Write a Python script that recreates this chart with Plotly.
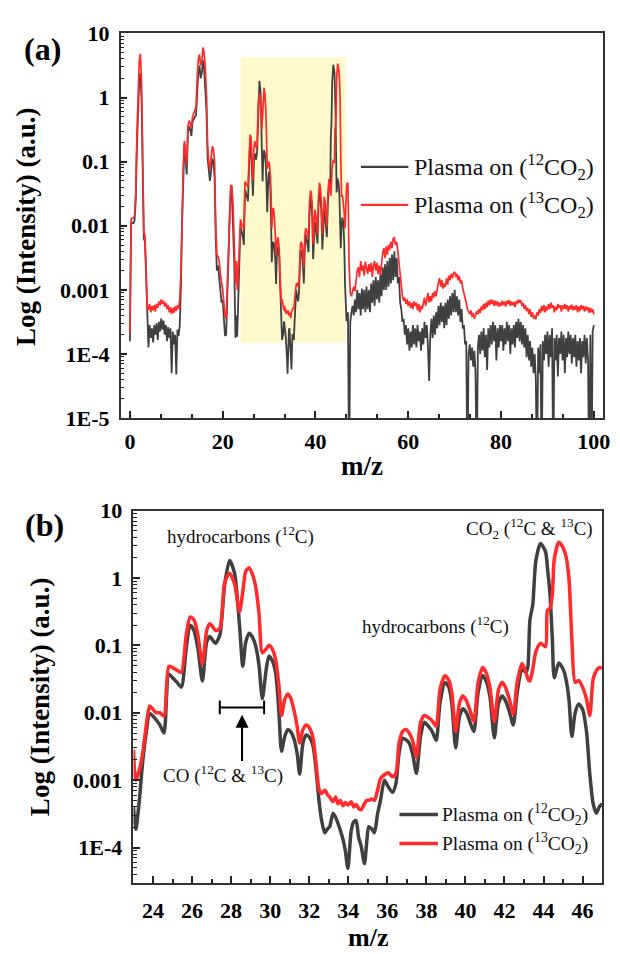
import numpy as np
import plotly.graph_objects as go

W, H = 620, 954
BLACK = "#404040"
RED = "#FF2A2A"
FONT = "Liberation Serif"

# ---------------- panel (b): m/z 23-47 (log10 intensity) ----------------
mz_b = [23.00, 23.12, 23.30, 23.46, 23.65, 23.83, 24.00, 24.15, 24.35, 24.56,
        24.81, 25.00, 25.23, 25.45, 25.70, 25.90, 26.10, 26.30, 26.53, 26.75,
        26.91, 27.05, 27.20, 27.42, 27.67, 27.92, 28.17, 28.43, 28.60, 28.75,
        28.93, 29.10, 29.27, 29.43, 29.60, 29.80, 29.94, 30.10, 30.28, 30.45,
        30.58, 30.75, 30.90, 31.05, 31.21, 31.38, 31.51, 31.68, 31.85, 32.00,
        32.20, 32.35, 32.50, 32.63, 32.80, 32.95, 33.05, 33.22, 33.35, 33.47,
        33.60, 33.73, 33.85, 33.98, 34.15, 34.28, 34.40, 34.53, 34.66, 34.83,
        34.95, 35.05, 35.20, 35.34, 35.50, 35.65, 35.85, 36.05, 36.27, 36.44,
        36.60, 36.78, 36.95, 37.12, 37.30, 37.49, 37.70, 37.90, 38.10, 38.30,
        38.50, 38.70, 38.95, 39.15, 39.30, 39.50, 39.70, 39.87, 40.05, 40.25,
        40.43, 40.65, 40.88, 41.05, 41.25, 41.48, 41.70, 41.89, 42.05, 42.25,
        42.45, 42.65, 42.90, 43.10, 43.20, 43.30, 43.45, 43.60, 43.84, 44.10,
        44.20, 44.33, 44.45, 44.55, 44.78, 45.00, 45.15, 45.30, 45.45, 45.62,
        45.80, 46.00, 46.20, 46.37, 46.54, 46.70, 46.85, 47.00]
log_12_b = [-3.40, -3.73, -3.30, -2.76, -2.30, -2.01, -2.05, -2.10, -2.18, -2.30,
            -1.43, -1.48, -1.55, -1.62, -1.05, -0.70, -0.78, -1.05, -1.53, -0.95,
            -0.87, -0.92, -0.97, -0.85, -0.10, 0.26, 0.08, -0.70, -1.31, -0.95,
            -0.82, -0.88, -1.02, -1.30, -1.79, -1.35, -1.16, -1.22, -1.41, -2.00,
            -2.57, -2.35, -2.25, -2.28, -2.38, -2.60, -2.91, -2.45, -2.33, -2.36,
            -2.50, -2.85, -3.30, -3.59, -3.78, -3.72, -3.69, -3.49, -3.55, -3.64,
            -3.75, -3.88, -4.05, -4.31, -3.75, -3.62, -3.60, -3.85, -3.98, -4.24,
            -3.90, -3.69, -3.72, -3.78, -3.50, -3.30, -3.00, -3.10, -3.18, -3.05,
            -2.60, -2.38, -2.40, -2.45, -2.62, -2.90, -2.35, -2.14, -2.20, -2.28,
            -2.41, -1.85, -1.55, -1.62, -1.85, -2.52, -2.05, -1.94, -2.00, -2.15,
            -2.28, -1.70, -1.45, -1.52, -1.75, -2.37, -1.85, -1.75, -1.82, -1.98,
            -2.18, -1.70, -1.36, -1.40, -1.31, -0.63, -0.39, 0.24, 0.51, 0.39,
            0.15, -0.24, -0.90, -1.48, -1.26, -1.35, -1.50, -1.80, -2.35, -2.00,
            -1.87, -1.95, -2.28, -2.91, -3.35, -3.49, -3.40, -3.35]
log_13_b = [-2.55, -3.00, -2.85, -2.62, -2.20, -1.90, -1.95, -2.00, -2.00, -2.05,
            -1.31, -1.33, -1.37, -1.40, -0.85, -0.58, -0.62, -0.85, -1.28, -0.78,
            -0.68, -0.72, -0.78, -0.75, -0.07, 0.07, -0.08, -0.50, -0.20, 0.10,
            0.15, 0.05, -0.15, -0.53, -1.11, -1.05, -1.00, -1.05, -1.21, -1.60,
            -2.04, -1.80, -1.72, -1.78, -1.95, -2.20, -2.45, -2.25, -2.18, -2.22,
            -2.38, -2.75, -3.13, -3.20, -3.15, -3.22, -3.25, -3.32, -3.25, -3.35,
            -3.30, -3.38, -3.33, -3.37, -3.32, -3.40, -3.36, -3.42, -3.44, -3.35,
            -3.30, -3.30, -3.28, -3.30, -3.15, -2.98, -2.92, -2.89, -2.95, -2.90,
            -2.45, -2.28, -2.25, -2.30, -2.42, -2.66, -2.15, -2.04, -2.07, -2.12,
            -2.20, -1.65, -1.45, -1.52, -1.70, -2.28, -1.85, -1.75, -1.82, -1.98,
            -2.13, -1.55, -1.33, -1.40, -1.62, -2.13, -1.65, -1.55, -1.62, -1.80,
            -2.02, -1.55, -1.27, -1.40, -1.50, -1.53, -1.35, -1.10, -0.97, -1.02,
            -0.48, -0.45, -0.25, 0.28, 0.53, 0.45, 0.32, 0.00, -0.90, -1.55,
            -1.52, -1.62, -1.80, -2.04, -1.50, -1.38, -1.33, -1.34]

# ---------------- panel (a): m/z 0-22.75 and 47.25-100 (step 0.25) ----------------
mz_a_lo = np.arange(0, 23, 0.25)
log_12_a_lo = [-3.80, -1.97, -1.95, -1.96,  -1.92, -1.62, -0.80, -0.10,
               0.25, 0.38, 0.00, -1.10,     -2.20, -2.25, -2.90, -3.60,
               -3.90, -3.55, -3.75, -3.60,  -3.82, -3.55, -3.70, -3.52,
               -3.78, -3.50, -3.65, -3.45,  -3.62, -3.48, -3.70, -3.55,
               -3.80, -3.58, -3.75, -3.60,  -4.30, -3.65, -3.85, -3.70,
               -4.32, -3.62, -3.72, -3.55,  -2.95, -1.95, -1.10, -0.72,
               -0.95, -1.20, -0.55, -0.45,  -0.50, -0.60, -0.38, -0.32,
               -0.30, -0.28, 0.10, 0.40,    0.50, 0.30, 0.38, 0.58,
               0.45, 0.20, -0.20, -0.95,    -1.20, -1.30, -1.15, -0.95,
               -1.00, -1.25, -2.20, -2.70,  -2.62, -2.85, -2.95, -3.20,
               -3.15, -3.45, -3.72, -3.70,  -3.20, -2.50, -1.85, -1.42,
               -1.55, -1.95, -2.60, -3.75]
log_13_a_lo = [-3.68, -1.90, -1.88, -1.88,  -1.85, -1.50, -0.60, 0.10,
               0.55, 0.68, 0.30, -0.90,     -2.10, -2.15, -2.60, -3.30,
               -3.30, -3.22, -3.35, -3.25,  -3.32, -3.24, -3.34, -3.22,
               -3.28, -3.18, -3.24, -3.15,  -3.22, -3.17, -3.26, -3.20,
               -3.30, -3.24, -3.35, -3.27,  -3.38, -3.28, -3.36, -3.26,
               -3.33, -3.24, -3.30, -3.15,  -2.70, -1.80, -1.05, -0.68,
               -0.85, -1.05, -0.45, -0.36,  -0.40, -0.48, -0.30, -0.24,
               -0.20, -0.15, 0.30, 0.60,    0.67, 0.50, 0.55, 0.78,
               0.70, 0.48, 0.05, -0.75,     -1.00, -1.12, -0.95, -0.76,
               -0.80, -1.00, -2.00, -2.45,  -2.48, -2.55, -2.75, -2.85,
               -3.00, -3.20, -3.40, -3.45,  -2.90, -2.30, -1.70, -1.37,
               -1.38, -1.70, -2.30, -2.90]

mz_a_hi = np.arange(47.25, 100.001, 0.25)
log_12_a_hi = [-6.00, -3.50, -3.35,
               -3.25, -3.40, -3.15, -3.35,  -3.00, -3.30, -3.05, -3.40,
               -2.98, -3.30, -3.00, -3.35,  -2.95, -3.30, -3.00, -3.35,
               -2.90, -3.20, -2.85, -3.25,  -2.80, -3.15, -2.85, -3.20,
               -2.75, -3.10, -2.65, -3.00,  -2.60, -3.00, -2.55, -2.95,
               -2.50, -2.90, -2.45, -2.85,  -2.40, -2.80, -2.50, -2.90,
               -2.80, -3.20, -3.30, -3.50,  -3.45, -3.70, -3.55, -3.85,
               -3.60, -3.95, -3.65, -3.90,  -3.55, -3.85, -3.60, -3.90,
               -3.55, -3.80, -3.65, -3.95,  -3.60, -3.85, -3.50, -3.75,
               -3.55, -3.90, -4.42, -3.70,  -3.45, -3.75, -3.40, -3.70,
               -3.35, -3.60, -3.25, -3.55,  -3.20, -3.50, -3.25, -3.60,
               -3.20, -3.55, -3.15, -3.45,  -3.10, -3.40, -3.05, -3.35,
               -3.00, -3.35, -3.10, -3.40,  -3.15, -3.50, -3.30, -3.60,
               -3.55, -3.85, -3.80, -6.00,  -4.00, -3.85, -4.10, -3.90,
               -4.20, -3.95, -4.30, -6.00,  -3.90, -3.70, -4.00, -3.65,
               -3.95, -3.60, -4.05, -3.70,  -4.25, -3.60, -3.90, -3.55,
               -3.85, -3.50, -3.80, -3.55,  -4.10, -3.60, -3.90, -3.55,
               -3.80, -3.55, -3.95, -3.60,  -3.85, -3.50, -3.80, -3.55,
               -4.00, -3.60, -3.85, -3.55,  -3.90, -3.50, -3.75, -3.45,
               -3.80, -3.50, -3.85, -3.55,  -3.90, -3.60, -4.05, -3.70,
               -4.10, -3.80, -4.20, -3.90,  -4.30, -4.00, -4.40, -6.00,
               -3.90, -4.30, -3.85, -6.00,  -3.80, -4.10, -3.70, -4.00,
               -3.65, -4.20, -3.70, -4.05,  -3.60, -6.00, -3.75, -4.10,
               -3.70, -4.35, -3.75, -4.00,  -3.65, -4.10, -3.70, -4.30,
               -3.75, -4.05, -3.65, -4.00,  -3.70, -4.15, -3.75, -4.05,
               -3.70, -4.20, -3.80, -4.10,  -3.75, -4.30, -3.80, -4.05,
               -3.70, -4.15, -3.75, -4.10,  -6.00, -3.70, -6.00, -3.65,
               -3.55]
log_13_a_hi = [-2.60, -3.05, -3.10,
               -3.00, -2.95, -3.02, -2.85,  -2.70, -2.65, -2.80, -2.55,
               -2.70, -2.62, -2.78, -2.56,  -2.65, -2.75, -2.60, -2.72,
               -2.58, -2.80, -2.62, -2.55,  -2.70, -2.58, -2.75, -2.62,
               -2.78, -2.55, -2.42, -2.35,  -2.50, -2.32, -2.45, -2.30,
               -2.38, -2.25, -2.35, -2.20,  -2.19, -2.30, -2.25, -2.40,
               -2.60, -2.82, -3.00, -3.10,  -3.17, -3.12, -3.22, -3.15,
               -3.25, -3.18, -3.28, -3.20,  -3.30, -3.18, -3.25, -3.20,
               -3.32, -3.22, -3.35, -3.25,  -3.30, -3.20, -3.12, -3.25,
               -3.15, -3.05, -3.20, -3.10,  -3.18, -3.05, -3.12, -3.02,
               -3.10, -2.95, -2.88, -2.82,  -2.95, -2.85, -2.98, -2.90,
               -2.95, -2.82, -2.92, -2.78,  -2.85, -2.75, -2.82, -2.74,
               -2.72, -2.80, -2.75, -2.85,  -2.78, -2.90, -2.85, -2.98,
               -3.05, -3.10, -3.20, -3.30,  -3.35, -3.38, -3.32, -3.42,
               -3.36, -3.45, -3.40, -3.33,  -3.38, -3.30, -3.36, -3.26,
               -3.32, -3.22, -3.30, -3.20,  -3.27, -3.17, -3.24, -3.15,
               -3.22, -3.16, -3.25, -3.17,  -3.24, -3.18, -3.26, -3.20,
               -3.25, -3.17, -3.24, -3.18,  -3.26, -3.17, -3.22, -3.16,
               -3.25, -3.18, -3.24, -3.19,  -3.27, -3.18, -3.22, -3.15,
               -3.20, -3.16, -3.25, -3.20,  -3.30, -3.24, -3.33, -3.28,
               -3.38, -3.30, -3.42, -3.35,  -3.45, -3.40, -3.46, -3.35,
               -3.40, -3.30, -3.36, -3.25,  -3.33, -3.24, -3.35, -3.26,
               -3.32, -3.22, -3.30, -3.20,  -3.28, -3.24, -3.35, -3.26,
               -3.32, -3.22, -3.28, -3.24,  -3.34, -3.24, -3.30, -3.22,
               -3.30, -3.24, -3.34, -3.25,  -3.30, -3.23, -3.32, -3.25,
               -3.31, -3.24, -3.35, -3.26,  -3.33, -3.24, -3.30, -3.25,
               -3.34, -3.26, -3.32, -3.27,  -3.36, -3.28, -3.35, -3.30,
               -3.38]

assert len(mz_b) == len(log_12_b) == len(log_13_b)
assert len(mz_a_lo) == len(log_12_a_lo) == len(log_13_a_lo)
assert len(mz_a_hi) == len(log_12_a_hi) == len(log_13_a_hi)

# full spectrum for panel (a)
mz_a = list(mz_a_lo) + mz_b + list(mz_a_hi)
int_12_a = 10 ** np.array(log_12_a_lo + log_12_b + log_12_a_hi)
int_13_a = 10 ** np.array(log_13_a_lo + log_13_b + log_13_a_hi)
int_12_b = 10 ** np.array(log_12_b)
int_13_b = 10 ** np.array(log_13_b)

series_names = ["Plasma on (<sup>12</sup>CO<sub>2</sub>)", "Plasma on (<sup>13</sup>CO<sub>2</sub>)"]

fig = go.Figure()
fig.add_trace(go.Scatter(x=mz_a, y=int_12_a, mode="lines", name=series_names[0],
                         line=dict(color=BLACK, width=1.8), xaxis="x", yaxis="y", showlegend=False))
fig.add_trace(go.Scatter(x=mz_a, y=int_13_a, mode="lines", name=series_names[1],
                         line=dict(color=RED, width=1.7), xaxis="x", yaxis="y", showlegend=False))
fig.add_trace(go.Scatter(x=mz_b, y=int_12_b, mode="lines", name=series_names[0],
                         line=dict(color=BLACK, width=3.5, shape="spline", smoothing=0.7),
                         xaxis="x2", yaxis="y2", showlegend=False))
fig.add_trace(go.Scatter(x=mz_b, y=int_13_b, mode="lines", name=series_names[1],
                         line=dict(color=RED, width=3.5, shape="spline", smoothing=0.7),
                         xaxis="x2", yaxis="y2", showlegend=False))


def px(x):
    return x / W


def py(y):
    return 1 - y / H


def bold(s):
    return "<b>" + s + "</b>"


minor_log = [k * 10.0 ** e for e in range(-6, 1) for k in range(2, 10)]
tickfont = dict(family=FONT, size=22, color="black", weight="bold")
common_axis = dict(showline=True, linecolor="#333333", linewidth=1.5, mirror=True,
                   ticks="inside", ticklen=7, tickwidth=1.5, tickcolor="#222222",
                   showgrid=False, zeroline=False, tickfont=tickfont)

fig.update_layout(
    width=W, height=H, margin=dict(l=0, r=0, t=0, b=0),
    paper_bgcolor="white", plot_bgcolor="white", showlegend=False,
    xaxis=dict(domain=[px(122), px(610)], anchor="y", range=[-2, 102],
               tickmode="array", tickvals=[0, 20, 40, 60, 80, 100],
               ticktext=[bold(str(v)) for v in [0, 20, 40, 60, 80, 100]],
               minor=dict(tickmode="linear", tick0=0, dtick=20 / 3, ticks="inside",
                          ticklen=4, tickwidth=1.5, tickcolor="#222222"),
               ticklabelstandoff=3, **common_axis),
    yaxis=dict(domain=[py(417), py(22)], anchor="x", type="log", range=[-5, 1],
               tickmode="array", tickvals=[1e-5, 1e-4, 1e-3, 1e-2, 1e-1, 1, 10],
               ticktext=[bold(t) for t in ["1E-5", "1E-4", "0.001", "0.01", "0.1", "1", "10"]],
               minor=dict(tickmode="array", tickvals=minor_log, ticks="inside",
                          ticklen=4, tickwidth=1.2, tickcolor="#222222"),
               ticklabelstandoff=5, **common_axis),
    xaxis2=dict(domain=[px(135), px(609)], anchor="y2", range=[23, 47],
                tickmode="array", tickvals=list(range(24, 47, 2)),
                ticktext=[bold(str(v)) for v in range(24, 47, 2)],
                minor=dict(tickmode="linear", tick0=23, dtick=1, ticks="inside",
                           ticklen=4, tickwidth=1.5, tickcolor="#222222"),
                ticklabelstandoff=7, **common_axis),
    yaxis2=dict(domain=[py(894), py(512)], anchor="x2", type="log", range=[-4.52, 1],
                tickmode="array", tickvals=[1e-4, 1e-3, 1e-2, 1e-1, 1, 10],
                ticktext=[bold(t) for t in ["1E-4", "0.001", "0.01", "0.1", "1", "10"]],
                minor=dict(tickmode="array", tickvals=minor_log, ticks="inside",
                           ticklen=4, tickwidth=1.2, tickcolor="#222222"),
                ticklabelstandoff=5, **common_axis),
)

# highlighted region in panel (a)  (shape coordinates on a log axis are data values)
HILITE_X = (23.9, 46.6)
HILITE_Y = (1.5e-4, 4.3)
fig.add_shape(type="rect", xref="x", yref="y", x0=HILITE_X[0], x1=HILITE_X[1],
              y0=HILITE_Y[0], y1=HILITE_Y[1], fillcolor="#FFF9CC",
              line=dict(width=0), layer="below")

ann = []
title_font = dict(family=FONT, size=27, color="black", weight="bold")
ann.append(dict(text=bold("Log (Intensity) (a.u.)"), x=px(27), y=py(220), xref="paper", yref="paper",
                textangle=-90, showarrow=False, font=title_font, xanchor="center", yanchor="middle"))
ann.append(dict(text=bold("Log (Intensity) (a.u.)"), x=px(40), y=py(703), xref="paper", yref="paper",
                textangle=-90, showarrow=False, font=title_font, xanchor="center", yanchor="middle"))
ann.append(dict(text=bold("m/z"), x=px(366), y=py(466), xref="paper", yref="paper",
                showarrow=False, font=title_font, xanchor="center", yanchor="middle"))
ann.append(dict(text=bold("m/z"), x=px(372), y=py(950), xref="paper", yref="paper",
                showarrow=False, font=dict(family=FONT, size=26, color="black", weight="bold"),
                xanchor="center", yanchor="middle"))
panel_font = dict(family=FONT, size=32, color="black", weight="bold")
ann.append(dict(text=bold("(a)"), x=px(43), y=py(38), xref="paper", yref="paper",
                showarrow=False, font=panel_font, xanchor="center", yanchor="middle"))
ann.append(dict(text=bold("(b)"), x=px(45), y=py(527), xref="paper", yref="paper",
                showarrow=False, font=panel_font, xanchor="center", yanchor="middle"))

# custom legends (line samples as shapes, labels as text)
legend_rows = [
    # (x_line0, x_line1, y, x_text, size, width, color, name)
    (365, 413, 159, 417, 24, 2.2, BLACK, series_names[0]),
    (365, 413, 198, 417, 24, 2.2, RED, series_names[1]),
    (404, 443, 824, 445, 19.5, 3.5, BLACK, series_names[0]),
    (404, 443, 854, 445, 19.5, 3.5, RED, series_names[1]),
]
for x0, x1, yy, xt, fs, lw, col, name in legend_rows:
    fig.add_shape(type="line", xref="paper", yref="paper", x0=px(x0), x1=px(x1),
                  y0=py(yy), y1=py(yy), line=dict(color=col, width=lw))
    ann.append(dict(text=name, x=px(xt), y=py(yy), xref="paper", yref="paper",
                    showarrow=False, xanchor="left", yanchor="middle",
                    font=dict(family=FONT, size=fs, color="#111111")))

# panel (b) labels (annotation positions on log axes use log10 values)
lab_font = dict(family=FONT, size=19, color="#111111")
ann.append(dict(text="hydrocarbons (<sup>12</sup>C)", x=28.5, y=0.63, xref="x2", yref="y2",
                showarrow=False, font=lab_font, xanchor="center", yanchor="middle"))
ann.append(dict(text="CO<sub>2</sub> (<sup>12</sup>C &amp; <sup>13</sup>C)", x=43.3, y=0.73,
                xref="x2", yref="y2", showarrow=False, font=lab_font, xanchor="center", yanchor="middle"))
ann.append(dict(text="hydrocarbons (<sup>12</sup>C)", x=38.45, y=-0.71, xref="x2", yref="y2",
                showarrow=False, font=lab_font, xanchor="center", yanchor="middle"))
ann.append(dict(text="CO (<sup>12</sup>C &amp; <sup>13</sup>C)", x=27.6, y=-2.92, xref="x2", yref="y2",
                showarrow=False, font=lab_font, xanchor="center", yanchor="middle"))

# CO bracket and arrow in panel (b)
CO_RANGE = (27.42, 29.69)
CO_Y = 0.012
CAP = (0.0095, 0.0152)
fig.add_shape(type="line", xref="x2", yref="y2", x0=CO_RANGE[0], x1=CO_RANGE[1],
              y0=CO_Y, y1=CO_Y, line=dict(color="black", width=2))
for xc in CO_RANGE:
    fig.add_shape(type="line", xref="x2", yref="y2", x0=xc, x1=xc,
                  y0=CAP[0], y1=CAP[1], line=dict(color="black", width=2))
ann.append(dict(text="", x=28.56, y=-2.03, xref="x2", yref="y2", ax=28.56, ay=-2.74,
                axref="x2", ayref="y2", showarrow=True, arrowhead=2, arrowsize=1.3,
                arrowwidth=2, arrowcolor="black"))

fig.update_layout(annotations=ann)
fig.write_html("out.html")
